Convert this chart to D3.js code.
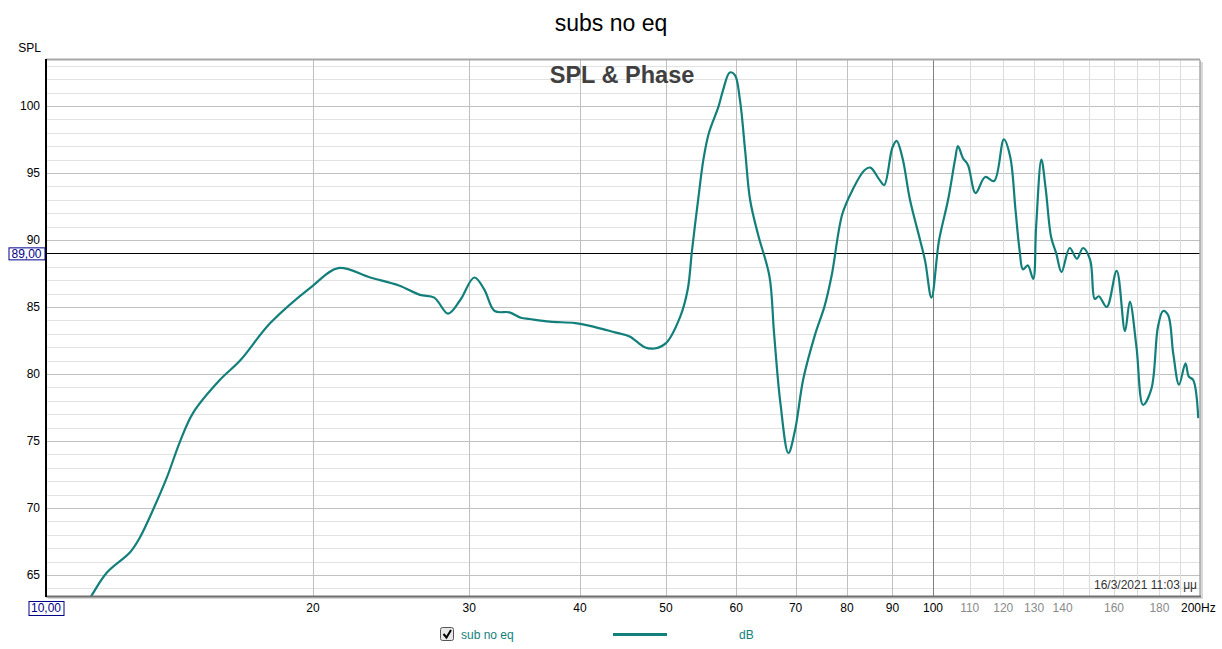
<!DOCTYPE html>
<html><head><meta charset="utf-8">
<script src="https://cdn.jsdelivr.net/npm/d3@7"></script>
<style>body{margin:0;background:#fff;}svg{display:block;font-family:Arial,"Liberation Sans",sans-serif;}</style>
</head><body>
<script>
const freqs = [10.8,11.24,11.72,12.44,12.76,13.2,13.69,14.15,14.65,15.7,16.55,17.9,20.0,21.35,23.2,25.0,26.4,27.4,28.4,29.3,30.4,31.2,32.05,33.3,34.3,35.1,37.0,39.5,41.6,43.8,45.5,47.3,48.5,50.0,51.9,52.9,53.5,54.4,55.1,55.9,57.3,58.0,59.0,59.8,60.6,61.4,62.2,63.5,65.4,66.2,67.3,68.7,69.9,71.4,73.6,75.5,76.9,79.0,81.1,83.7,85.0,87.0,88.1,90.0,91.0,92.4,94.2,96.7,98.0,99.6,101.6,104.0,105.9,106.7,108.1,109.5,111.7,114.5,117.2,120.2,122.2,123.9,125.2,126.3,127.9,129.7,130.7,132.5,134.0,135.9,137.7,139.6,142.6,145.3,147.6,150.4,152.2,153.8,157.0,161.1,164.6,166.7,169.6,172.5,176.3,179.3,181.7,184.1,186.6,189.4,192.6,194.3,196.5,199.1];
const spl = [61.5,63.4,65.2,66.7,67.8,69.85,72.3,74.9,77.1,79.55,81.0,83.8,86.6,87.9,87.2,86.6,85.9,85.7,84.5,85.5,87.2,86.3,84.7,84.6,84.2,84.1,83.9,83.8,83.5,83.1,82.8,82.0,81.9,82.3,84.3,86.3,89.25,93.2,96.0,98.0,99.95,101.2,102.5,102.3,100.4,96.7,93.0,90.4,87.3,83.0,77.8,74.1,75.8,79.6,82.9,85.1,87.4,91.9,93.7,95.2,95.4,94.5,94.1,96.9,97.4,96.1,93.0,90.0,88.4,85.7,90.0,93.0,96.0,97.0,96.1,95.6,93.5,94.7,94.4,97.5,96.2,92.2,89.25,87.8,88.1,87.1,91.0,96.0,93.8,90.2,89.0,87.6,89.4,88.6,89.4,88.5,85.6,85.8,85.0,87.7,83.2,85.4,82.0,77.7,78.9,83.5,84.7,84.4,81.5,79.2,80.8,79.8,79.55,76.7];
const yTicks = [65,70,75,80,85,90,95,100];
const xTicksMain = [20,30,40,50,60,70,80,90,100];
const xTicksMinor = [110,120,130,140,160,180];
const xGridMinor = [110,120,130,140,150,160,170,180,190];
const refLevel = 89;
const title = "subs no eq";
const subtitle = "SPL & Phase";
const stamp = "16/3/2021 11:03 μμ";
const seriesName = "sub no eq";
const unit = "dB";

const W = 1222, H = 649;
const L = 46, R = 1200, T = 60, B = 596;
const lineColor = "#127f7b";
const svg = d3.select("body").append("svg").attr("width", W).attr("height", H);
const x = d3.scaleLog().domain([10, 200]).range([L, R]);
const y = d3.scaleLinear().domain([63.43, 103.43]).range([B, T]);

// shadow
svg.append("rect").attr("x", L+2).attr("y", T+2).attr("width", R-L+1).attr("height", B-T+1).attr("fill", "#d8d8d8");
svg.append("rect").attr("x", L).attr("y", T).attr("width", R-L).attr("height", B-T).attr("fill", "#fff");

// horizontal grid
const hMinor = d3.range(64, 104, 1);
svg.append("g").selectAll("line").data(hMinor).join("line")
  .attr("x1", L).attr("x2", R).attr("y1", d => Math.round(y(d))+0.5).attr("y2", d => Math.round(y(d))+0.5)
  .attr("stroke", d => d % 5 === 0 ? "#c0c0c0" : "#e2e2e2").attr("stroke-width", 1);
// vertical grid
svg.append("g").selectAll("line").data(xGridMinor).join("line")
  .attr("x1", d => Math.round(x(d))+0.5).attr("x2", d => Math.round(x(d))+0.5).attr("y1", T).attr("y2", B)
  .attr("stroke", "#dcdcdc");
svg.append("g").selectAll("line").data(xTicksMain).join("line")
  .attr("x1", d => Math.round(x(d))+0.5).attr("x2", d => Math.round(x(d))+0.5).attr("y1", T).attr("y2", B)
  .attr("stroke", d => d === 100 ? "#808080" : "#c0c0c0");

// reference line
svg.append("line").attr("x1", 44).attr("x2", R).attr("y1", Math.round(y(refLevel))+0.5).attr("y2", Math.round(y(refLevel))+0.5)
  .attr("stroke", "#000").attr("stroke-width", 1);

// curve
svg.append("defs").append("clipPath").attr("id", "clip").append("rect")
  .attr("x", L).attr("y", T).attr("width", R-L).attr("height", B-T);
const pts = freqs.map((f, i) => [f, spl[i]]);
svg.append("path").datum(pts).attr("clip-path", "url(#clip)")
  .attr("d", d3.line().x(d => x(d[0])).y(d => y(d[1])).curve(d3.curveCatmullRom.alpha(0.5)))
  .attr("fill", "none").attr("stroke", lineColor).attr("stroke-width", 2.2);

// frame
svg.append("line").attr("x1", L).attr("x2", R).attr("y1", T-0.5).attr("y2", T-0.5).attr("stroke", "#a8a8a8").attr("stroke-width", 2);
svg.append("line").attr("x1", R).attr("x2", R).attr("y1", T).attr("y2", B).attr("stroke", "#a8a8a8").attr("stroke-width", 1.5);
svg.append("line").attr("x1", L).attr("x2", R+1).attr("y1", B+0.5).attr("y2", B+0.5).attr("stroke", "#707070").attr("stroke-width", 2);
svg.append("line").attr("x1", L).attr("x2", L).attr("y1", T-1).attr("y2", B+1).attr("stroke", "#000").attr("stroke-width", 2);

// y tick labels
svg.append("g").selectAll("text").data(yTicks).join("text")
  .attr("x", 40).attr("y", d => y(d)).attr("dy", "0.36em").attr("text-anchor", "end")
  .attr("font-size", 12).attr("fill", "#000").text(d => d);
svg.append("text").attr("x", 41).attr("y", 52).attr("text-anchor", "end").attr("font-size", 12).text("SPL");

// x tick labels
svg.append("g").selectAll("text").data(xTicksMain).join("text")
  .attr("x", d => x(d)).attr("y", 612).attr("text-anchor", "middle").attr("font-size", 12).attr("fill", "#000").text(d => d);
svg.append("g").selectAll("text").data(xTicksMinor).join("text")
  .attr("x", d => x(d)).attr("y", 612).attr("text-anchor", "middle").attr("font-size", 12).attr("fill", "#8a8a8a").text(d => d);
svg.append("text").attr("x", x(200) - 19).attr("y", 612).attr("text-anchor", "start").attr("font-size", 12).attr("fill", "#000").text("200Hz");

// boxed value labels
function boxLabel(cx, cy, w, h, txt) {
  svg.append("rect").attr("x", cx - w/2 + 0.5).attr("y", cy - h/2 + 0.5).attr("width", w).attr("height", h)
    .attr("fill", "#fff").attr("stroke", "#00008b").attr("stroke-width", 1);
  svg.append("text").attr("x", cx).attr("y", cy).attr("dy", "0.36em").attr("text-anchor", "middle")
    .attr("font-size", 12).attr("fill", "#00008b").text(txt);
}
boxLabel(26.5, y(refLevel), 36, 12, "89,00");
boxLabel(x(10), 608, 35, 14, "10,00");

// titles
svg.append("text").attr("x", 611).attr("y", 31).attr("text-anchor", "middle").attr("font-size", 23).attr("fill", "#000").text(title);
svg.append("text").attr("x", 622).attr("y", 83).attr("text-anchor", "middle").attr("font-size", 23.5).attr("font-weight", "bold").attr("fill", "#404040").text(subtitle);
svg.append("text").attr("x", 1197).attr("y", 589).attr("text-anchor", "end").attr("font-size", 12).attr("fill", "#333").text(stamp);

// legend
const lg = svg.append("g");
lg.append("rect").attr("x", 440.5).attr("y", 627.5).attr("width", 13).attr("height", 13).attr("rx", 2)
  .attr("fill", "#e8e8e8").attr("stroke", "#555");
lg.append("path").attr("d", "M443.5,634 L446.5,637.5 L451,630").attr("fill", "none").attr("stroke", "#000").attr("stroke-width", 2);
lg.append("text").attr("x", 461).attr("y", 639).attr("font-size", 12).attr("fill", lineColor).text(seriesName);
lg.append("line").attr("x1", 613).attr("x2", 667).attr("y1", 634.5).attr("y2", 634.5).attr("stroke", lineColor).attr("stroke-width", 3);
lg.append("text").attr("x", 739).attr("y", 639).attr("font-size", 12).attr("fill", lineColor).text(unit);
</script>
</body></html>
